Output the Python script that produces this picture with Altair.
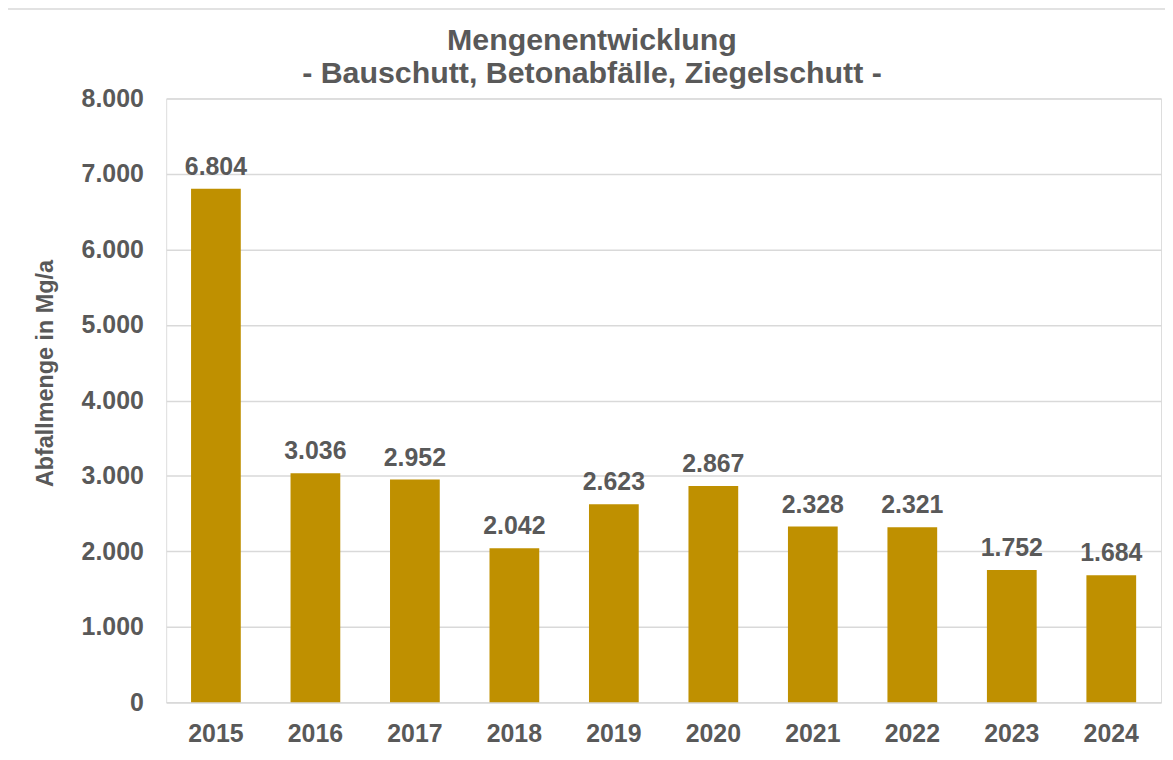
import altair as alt
import pandas as pd

years = ["2015", "2016", "2017", "2018", "2019", "2020", "2021", "2022", "2023", "2024"]
values = [6804, 3036, 2952, 2042, 2623, 2867, 2328, 2321, 1752, 1684]

df = pd.DataFrame({"Jahr": years, "Menge": values})

GRAY = "#595959"
FONT = "Liberation Sans"
GOLD = "#BF9000"

base = alt.Chart(df)

bars = base.mark_bar(color=GOLD).encode(
    x=alt.X("Jahr:N", sort=years,
            scale=alt.Scale(paddingInner=0.5, paddingOuter=0.25),
            axis=alt.Axis(title=None, labelAngle=0, ticks=False, labelPadding=19,
                          labelFontSize=25, labelFont=FONT, labelFontWeight="bold",
                          labelColor=GRAY, domainColor="#d9d9d9", domainWidth=1.5,
                          grid=False)),
    y=alt.Y("Menge:Q", scale=alt.Scale(domain=[0, 8000], nice=False),
            axis=alt.Axis(title="Abfallmenge in Mg/a", values=[0, 1000, 2000, 3000, 4000, 5000, 6000, 7000, 8000],
                          labelExpr="replace(format(datum.value, ',.0f'), ',', '.')",
                          ticks=False, domain=False, labelPadding=23,
                          labelFontSize=25, labelFont=FONT, labelFontWeight="bold",
                          labelColor=GRAY, gridColor="#d9d9d9", gridWidth=1.5,
                          titleFont=FONT, titleFontSize=23.5, titleFontWeight="bold",
                          titleColor=GRAY, titleX=-121, titleY=276, titleBaseline="middle",
                          titleAngle=270, titleAlign="center")),
)

labels = base.transform_calculate(
    lbl="replace(format(datum.Menge, ',.0f'), ',', '.')"
).mark_text(dy=-14, baseline="alphabetic", fontSize=25, font=FONT,
            fontWeight="bold", color=GRAY).encode(
    x=alt.X("Jahr:N", sort=years),
    y="Menge:Q",
    text="lbl:N",
)

border = alt.Chart(pd.DataFrame({"a": [0]})).mark_rect(
    fill=None, stroke="#d9d9d9", strokeWidth=1.5
).encode(
    x=alt.value(-161), x2=alt.value(1012), y=alt.value(-90), y2=alt.value(700)
)

chart = alt.layer(border, bars, labels).properties(
    width=1000, height=607,
    title=alt.Title(["Mengenentwicklung", "- Bauschutt, Betonabfälle, Ziegelschutt -"],
                    font=FONT, fontSize=30.5, fontWeight="bold", color=GRAY,
                    anchor="middle", frame="group", offset=0, baseline="alphabetic",
                    dy=106, dx=-72, lineHeight=33),
    padding={"left": 159, "top": 89, "right": 4, "bottom": 48},
    autosize="none",
).configure_view(stroke=None).configure(background="white")

chart.save("out.html", embed_options={"renderer": "svg", "actions": False})
